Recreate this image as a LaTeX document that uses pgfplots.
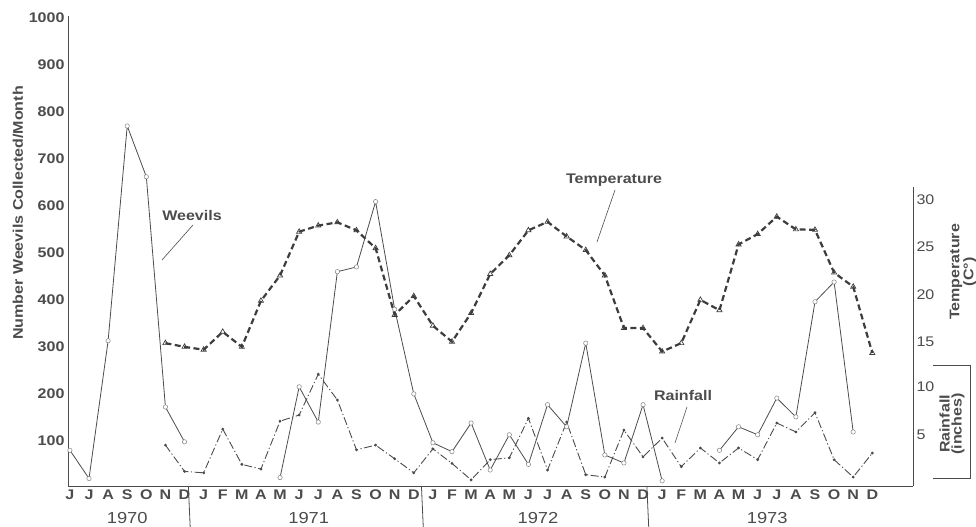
\documentclass[border=0pt]{standalone}
\usepackage{pgfplots}
\pgfplotsset{compat=1.18}
\usepackage{pgfplotstable}
\usepackage{fontspec}
\setmainfont{Liberation Sans}[FakeStretch=1.15]
\definecolor{ink}{gray}{0.30}
\definecolor{tink}{gray}{0.24}

% i = month index (0 = June 1970); W = weevils/month;
% T = temperature and R = rainfall, both in left-axis units (20 per deg C / per inch)
\pgfplotstableread{
i W T R
0 80 nan nan
1 20 nan nan
2 313 nan nan
3 770 nan nan
4 662 nan nan
5 172 308 91
6 98 300 35
7 nan 294 32
8 nan 332 125
9 nan 300 50
10 nan 398 40
11 22 452 142
12 215 545 155
13 140 558 242
14 460 565 187
15 470 548 81
16 609 510 91
17 380 368 62
18 200 408 32
19 96 345 83
20 77 311 52
21 138 372 17
22 38 455 60
23 113 495 64
24 50 548 148
25 177 566 38
26 130 535 140
27 308 506 28
28 70 452 23
29 53 340 123
30 177 340 66
31 15 290 106
32 nan 308 45
33 nan 400 85
34 80 378 53
35 130 518 85
36 113 540 60
37 191 577 138
38 151 550 119
39 396 549 160
40 438 458 60
41 119 428 23
42 nan 287 74
}\datatable

\begin{document}
\begin{tikzpicture}
\path[use as bounding box] (-68bp,-41bp) rectangle (908bp,486bp);
\begin{axis}[
  at={(0,0)}, anchor=south west,
  scale only axis, width=845bp, height=470bp,
  xmin=-0.1, xmax=44.13, ymin=4, ymax=1004,
  axis x line*=bottom, axis y line*=left,
  axis line style={ink, line width=0.9bp, -},
  major tick length=0,
  xtick={0,...,42},
  xticklabels={J,J,A,S,O,N,D,J,F,M,A,M,J,J,A,S,O,N,D,J,F,M,A,M,J,J,A,S,O,N,D,J,F,M,A,M,J,J,A,S,O,N,D},
  xticklabel style={font=\fontsize{14}{16}\selectfont\bfseries, text=ink},
  ytick={100,200,...,1000},
  yticklabel style={font=\fontsize{14}{16}\selectfont\bfseries, text=ink},
  /pgf/number format/assume math mode=true,
  /pgf/number format/1000 sep={},
  clip=false,
  unbounded coords=jump,
]
\addplot[ink, line width=0.8bp, mark=*, mark size=2.2bp,
  mark options={fill=white, draw=ink!70, line width=0.5bp}]
  table[x=i,y=W]{\datatable};
\addplot[tink, line width=2.2bp, dash pattern=on 6bp off 3.5bp,
  mark=triangle, mark size=3bp, mark options={solid, line width=0.7bp}]
  table[x=i,y=T]{\datatable};
\addplot[ink, line width=0.9bp, dash pattern=on 8bp off 2.5bp on 1.2bp off 2.5bp,
  mark=*, mark size=0.9bp, mark options={solid}]
  table[x=i,y=R]{\datatable};
% year separators and year labels
\foreach \s in {6.2,18.4,30.2} {
  \edef\tmp{\noexpand\draw[ink, line width=0.8bp] (axis cs:\s,4) -- ++(0,-41bp);}\tmp
}
\node[anchor=north, inner sep=0, font=\fontsize{16}{18}\selectfont, text=ink, yshift=-26bp] at (axis cs:3,4) {1970};
\node[anchor=north, inner sep=0, font=\fontsize{16}{18}\selectfont, text=ink, yshift=-26bp] at (axis cs:12.5,4) {1971};
\node[anchor=north, inner sep=0, font=\fontsize{16}{18}\selectfont, text=ink, yshift=-26bp] at (axis cs:24.5,4) {1972};
\node[anchor=north, inner sep=0, font=\fontsize{16}{18}\selectfont, text=ink, yshift=-26bp] at (axis cs:36.5,4) {1973};
\end{axis}
\begin{axis}[
  at={(0,0)}, anchor=south west,
  scale only axis, width=845bp, height=299bp,
  xmin=-0.1, xmax=44.13, ymin=4, ymax=640.2,
  axis x line=none, axis y line*=right,
  axis line style={ink, line width=0.9bp, -},
  major tick length=0,
  ytick={113,215,311,411,513,613},
  yticklabels={5,10,15,20,25,30},
  yticklabel style={font=\fontsize{14}{16}\selectfont, text=ink},
]
\end{axis}
% annotations
\node[font=\fontsize{14}{16}\selectfont\bfseries, text=ink] at (124bp,270bp) {Weevils};
\draw[ink, line width=0.6bp] (125bp,261bp) -- (94bp,226bp);
\node[font=\fontsize{14}{16}\selectfont\bfseries, text=ink] at (546bp,306bp) {Temperature};
\draw[ink, line width=0.6bp] (547bp,296bp) -- (529bp,244bp);
\node[font=\fontsize{14}{16}\selectfont\bfseries, text=ink] at (615bp,90bp) {Rainfall};
\draw[ink, line width=0.6bp] (619bp,79bp) -- (607bp,43bp);
\node[rotate=90, font=\fontsize{14}{16}\selectfont\bfseries, text=ink] at (-50bp,273bp) {Number Weevils Collected/Month};
\node[rotate=90, align=center, font=\fontsize{14}{12}\selectfont\bfseries, text=ink] at (895bp,214bp) {Temperature\\(C°)};
\node[rotate=90, align=center, font=\fontsize{14}{12}\selectfont\bfseries, text=ink] at (884bp,62bp) {Rainfall\\(inches)};
\draw[ink, line width=0.8bp] (865bp,121bp) -- (902bp,121bp) -- (902bp,8bp) -- (865bp,8bp);
\end{tikzpicture}
\end{document}
